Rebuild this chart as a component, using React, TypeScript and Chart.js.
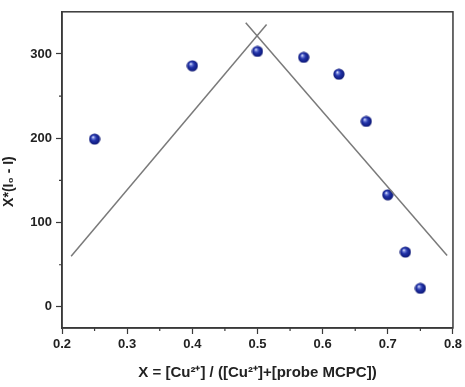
import React, { useEffect, useRef } from "react";
import { Chart, registerables } from "chart.js";

Chart.register(...registerables);

const xValues = [0.25, 0.4, 0.5, 0.571, 0.625, 0.667, 0.7, 0.727, 0.75];
const yValues = [199, 286, 303, 296, 276, 220, 133, 65, 22];
const fitLeftX = [0.214, 0.514];
const fitLeftY = [60, 335];
const fitRightX = [0.482, 0.791];
const fitRightY = [337, 61];
const xMinorTicks = [0.25, 0.35, 0.45, 0.55, 0.65, 0.75];
const yMinorTicks = [50, 150, 250];
const xTitle = "X = [Cu²⁺] / ([Cu²⁺]+[probe MCPC])";
const yTitle = "X*(I₀ - I)";

function makeBall(): HTMLCanvasElement {
  const s = 12;
  const c = document.createElement("canvas");
  c.width = s;
  c.height = s;
  const ctx = c.getContext("2d")!;
  const g = ctx.createRadialGradient(4.3, 4.0, 0.3, 6, 6, 6);
  g.addColorStop(0, "#e8ecff");
  g.addColorStop(0.18, "#6f7fd8");
  g.addColorStop(0.45, "#2233a8");
  g.addColorStop(0.85, "#101c80");
  g.addColorStop(1, "#0a1260");
  ctx.fillStyle = g;
  ctx.beginPath();
  ctx.arc(6, 6, 5.6, 0, Math.PI * 2);
  ctx.fill();
  return c;
}

const framePlugin = {
  id: "frameMinor",
  afterDraw(chart: any) {
    const { ctx, chartArea, scales } = chart;
    ctx.save();
    ctx.strokeStyle = "#3a3a3a";
    ctx.lineWidth = 1.5;
    ctx.strokeRect(chartArea.left, chartArea.top, chartArea.right - chartArea.left, chartArea.bottom - chartArea.top);
    ctx.lineWidth = 1.2;
    ctx.beginPath();
    for (const v of xMinorTicks) {
      const px = scales.x.getPixelForValue(v);
      ctx.moveTo(px, chartArea.bottom);
      ctx.lineTo(px, chartArea.bottom + 3);
    }
    for (const v of yMinorTicks) {
      const py = scales.y.getPixelForValue(v);
      ctx.moveTo(chartArea.left, py);
      ctx.lineTo(chartArea.left - 3, py);
    }
    ctx.stroke();
    ctx.restore();
  },
};

export default function App() {
  const ref = useRef<HTMLCanvasElement>(null);
  useEffect(() => {
    document.body.style.margin = "0";
    const ball = makeBall();
    const family = "'Liberation Sans', Arial, sans-serif";
    const tickFont = { family, size: 13, weight: "bold" as const };
    const xTitleFont = { family, size: 15, weight: "bold" as const };
    const yTitleFont = { family, size: 14, weight: "bold" as const };
    const chart = new Chart(ref.current!, {
      type: "scatter",
      data: {
        datasets: [
          {
            type: "line",
            data: fitLeftX.map((x, i) => ({ x, y: fitLeftY[i] })),
            borderColor: "#7a7a7a",
            borderWidth: 1.5,
            pointRadius: 0,
            fill: false,
          },
          {
            type: "line",
            data: fitRightX.map((x, i) => ({ x, y: fitRightY[i] })),
            borderColor: "#7a7a7a",
            borderWidth: 1.5,
            pointRadius: 0,
            fill: false,
          },
          {
            data: xValues.map((x, i) => ({ x, y: yValues[i] })),
            pointStyle: ball as any,
            pointRadius: 6,
          },
        ],
      } as any,
      options: {
        animation: false,
        responsive: false,
        layout: { padding: { top: 11, right: 10, left: 0, bottom: 0 } },
        plugins: { legend: { display: false }, tooltip: { enabled: false } },
        scales: {
          x: {
            type: "linear",
            min: 0.2,
            max: 0.8,
            afterFit: (s: any) => { s.height = 59; },
            grid: { drawOnChartArea: false, tickLength: 6, tickColor: "#3a3a3a", tickWidth: 1.2 },
            border: { color: "#3a3a3a", width: 1.5 },
            ticks: {
              stepSize: 0.1,
              includeBounds: false,
              padding: 3,
              color: "#222",
              font: tickFont,
              maxRotation: 0,
              callback: (v: any) => Number(v).toFixed(1),
            },
            title: { display: true, text: xTitle, color: "#222", font: xTitleFont, padding: { top: 4, bottom: 5 } },
          },
          y: {
            type: "linear",
            min: -25,
            max: 350,
            afterFit: (s: any) => { s.width = 62; },
            grid: { drawOnChartArea: false, tickLength: 6, tickColor: "#3a3a3a", tickWidth: 1.2 },
            border: { color: "#3a3a3a", width: 1.5 },
            ticks: {
              stepSize: 100,
              includeBounds: false,
              padding: 4,
              color: "#222",
              font: tickFont,
            },
            title: { display: true, text: yTitle + "      ", color: "#222", font: yTitleFont, padding: { top: 1, bottom: 4 } },
          },
        },
      },
      plugins: [framePlugin],
    } as any);
    return () => chart.destroy();
  }, []);
  return <canvas ref={ref} width={465} height={387} style={{ display: "block", background: "#fff" }} />;
}
